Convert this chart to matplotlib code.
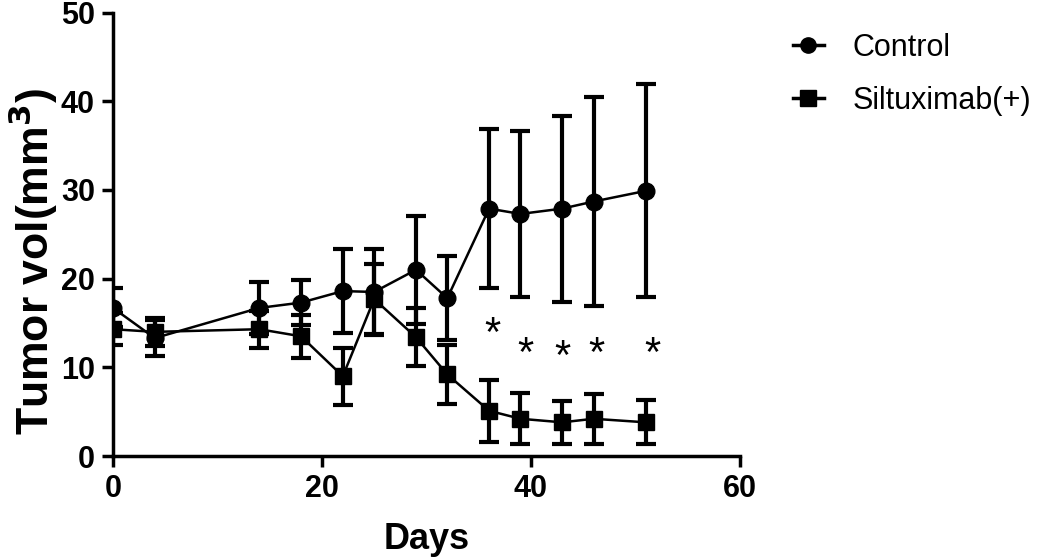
import numpy as np
import matplotlib
matplotlib.use('Agg')
import matplotlib.pyplot as plt
from matplotlib.lines import Line2D

plt.rcParams['font.family'] = ['Liberation Sans', 'DejaVu Sans']

# ---------------- data ----------------
days = [0, 4, 14, 18, 22, 25, 29, 32, 36, 39, 43, 46, 51]
control = [16.7, 13.3, 16.7, 17.3, 18.6, 18.5, 21.0, 17.8, 27.9, 27.3, 27.9, 28.7, 29.9]
control_err = [2.2, 2.0, 2.9, 2.5, 4.7, 4.9, 6.1, 4.7, 9.0, 9.4, 10.5, 11.8, 12.0]
siltux = [14.3, 14.0, 14.3, 13.5, 9.0, 17.7, 13.4, 9.2, 5.1, 4.2, 3.8, 4.2, 3.8]
siltux_err = [1.8, 1.6, 2.1, 2.4, 3.2, 3.9, 3.3, 3.3, 3.5, 2.9, 2.4, 2.8, 2.5]
star_x = [36.3, 39.5, 43.0, 46.3, 51.6]
star_y = [13.6, 11.4, 11.1, 11.4, 11.4]

fig = plt.figure(figsize=(10.5, 5.57), dpi=100)
ax = fig.add_axes([0.1076, 0.1813, 0.597, 0.796])

ax.errorbar(days, control, yerr=control_err, fmt='-o', color='black',
            ms=12, lw=1.8, elinewidth=3, capsize=7, capthick=3, zorder=3)
ax.errorbar(days, siltux, yerr=siltux_err, fmt='-s', color='black',
            ms=12, lw=1.8, elinewidth=3, capsize=7, capthick=3, zorder=4)

for sx, sy in zip(star_x, star_y):
    ax.text(sx, sy, '*', fontsize=30, ha='center', va='center')

ax.set_xlim(0, 60)
ax.set_ylim(0, 50)
ax.set_xticks([0, 20, 40, 60])
ax.set_yticks([0, 10, 20, 30, 40, 50])
for s in ['top', 'right']:
    ax.spines[s].set_visible(False)
for s in ['left', 'bottom']:
    ax.spines[s].set_linewidth(2.5)
ax.tick_params(width=2.5, length=8, labelsize=22, pad=5)
for lab in ax.get_xticklabels() + ax.get_yticklabels():
    lab.set_fontweight('bold')

ax.set_xlabel('Days', fontsize=26, fontweight='bold', labelpad=13)
fig.text(33 / 1050, 1 - 262 / 557, 'Tumor vol(mm$^\\mathbf{3}$)', fontsize=32,
         fontweight='bold', rotation=90, ha='center', va='center')

handles = [Line2D([], [], color='black', marker='o', lw=2.5, ms=11),
           Line2D([], [], color='black', marker='s', lw=2.5, ms=11)]
fig.legend(handles, ['Control', 'Siltuximab(+)'], loc='upper left',
           bbox_to_anchor=(0.729, 0.99), frameon=False, fontsize=22,
           handlelength=1.0, handletextpad=0.95, labelspacing=0.75)

fig.savefig('out.png', dpi=100)
